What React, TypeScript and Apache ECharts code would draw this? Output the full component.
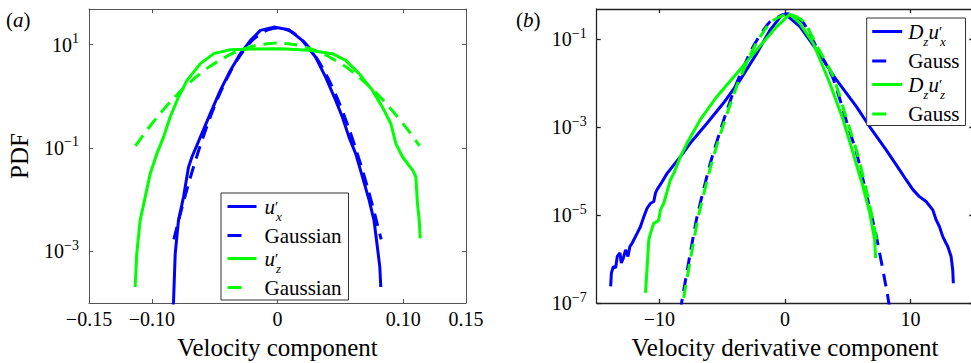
import React, { useEffect, useRef } from 'react';
import * as echarts from 'echarts';

const FONT = 'Liberation Serif';
const BLUE = '#0000ff';
const GREEN = '#00ff00';
const FRAME_A = '#555555';
const FRAME_B = '#222222';

// ---- panel (a): velocity components, points are [velocity, log10(PDF)] ----
const uxCurve: [number, number][] = [
  [-0.0835, -4.2], [-0.0827, -3.95], [-0.0814, -3.05], [-0.0788, -2.4], [-0.0748, -1.95],
  [-0.0708, -1.37], [-0.0681, -1.175], [-0.0614, -0.79], [-0.0535, -0.335], [-0.0455, 0.115],
  [-0.0375, 0.5], [-0.0295, 0.826], [-0.0215, 1.083], [-0.0136, 1.277], [-0.003, 1.34],
  [0.009, 1.29], [0.0197, 1.083], [0.0303, 0.76], [0.0383, 0.373], [0.0463, -0.078],
  [0.0516, -0.4], [0.0569, -0.79], [0.0622, -1.11], [0.0676, -1.56], [0.0729, -2.01],
  [0.0768, -2.4], [0.0795, -2.92], [0.0814, -3.3], [0.0822, -3.69],
];
const uxGauss: [number, number][] = [
  [-0.0825, -2.77], [-0.0775, -2.29], [-0.0725, -1.84], [-0.0675, -1.42], [-0.0625, -1.03],
  [-0.0575, -0.67], [-0.0525, -0.336], [-0.0475, -0.035], [-0.0425, 0.236], [-0.0375, 0.476],
  [-0.0325, 0.687], [-0.0275, 0.867], [-0.0225, 1.018], [-0.0175, 1.138], [-0.0125, 1.228],
  [-0.0075, 1.288], [0, 1.322], [0.0075, 1.288], [0.0125, 1.228], [0.0175, 1.138],
  [0.0225, 1.018], [0.0275, 0.867], [0.0325, 0.687], [0.0375, 0.476], [0.0425, 0.236],
  [0.0475, -0.035], [0.0525, -0.336], [0.0575, -0.67], [0.0625, -1.03], [0.0675, -1.42],
  [0.0725, -1.84], [0.0775, -2.29], [0.0825, -2.77],
];
const uzCurve: [number, number][] = [
  [-0.1133, -3.69], [-0.112, -3.05], [-0.1093, -2.4], [-0.1053, -1.95], [-0.1013, -1.5],
  [-0.096, -1.11], [-0.0907, -0.79], [-0.0854, -0.4], [-0.0788, -0.014], [-0.072, 0.309],
  [-0.0614, 0.632], [-0.0508, 0.826], [-0.0375, 0.903], [-0.0189, 0.915], [0.0024, 0.92],
  [0.025, 0.89], [0.0436, 0.826], [0.0543, 0.696], [0.0649, 0.44], [0.0755, 0.115],
  [0.0835, -0.21], [0.0902, -0.53], [0.0942, -0.916], [0.0995, -1.175], [0.1075, -1.43],
  [0.1101, -1.56], [0.1114, -2.08], [0.1128, -2.4], [0.1136, -2.75],
];
const uzGauss: [number, number][] = [
  [-0.113, -0.96], [-0.105, -0.69], [-0.095, -0.38], [-0.085, -0.1], [-0.075, 0.15],
  [-0.065, 0.37], [-0.055, 0.56], [-0.045, 0.71], [-0.035, 0.84], [-0.025, 0.93],
  [-0.015, 0.995], [0, 1.03], [0.015, 0.995], [0.025, 0.93], [0.035, 0.84], [0.045, 0.71],
  [0.055, 0.56], [0.065, 0.37], [0.075, 0.15], [0.085, -0.1], [0.095, -0.38],
  [0.105, -0.69], [0.113, -0.96],
];

// ---- panel (b): velocity derivative components, [derivative, log10(PDF)] ----
const duxCurve: [number, number][] = [
  [-13.89, -6.62], [-13.83, -6.32], [-13.67, -6.17], [-13.49, -6.2], [-13.36, -5.94],
  [-13.15, -5.86], [-13.04, -6.09], [-12.88, -5.98], [-12.7, -5.79], [-12.51, -5.94],
  [-12.35, -5.71], [-12.17, -5.64], [-12.04, -5.56], [-11.77, -5.41], [-11.51, -5.26],
  [-11.24, -5.03], [-10.98, -4.84], [-10.71, -4.73], [-10.45, -4.69], [-10.32, -4.5],
  [-10.19, -4.42], [-9.79, -4.24], [-9.39, -4.05], [-8.33, -3.67], [-7.54, -3.36],
  [-6.21, -2.91], [-4.9, -2.45], [-3.57, -1.925], [-2.25, -1.32], [-1.19, -0.79],
  [-0.26, -0.45], [0, -0.425], [0.13, -0.45], [1.19, -0.71], [2.52, -1.24], [4.1, -1.925],
  [5.69, -2.53], [6.75, -2.99], [8.07, -3.52], [9.13, -3.97], [9.66, -4.2], [10.19, -4.42],
  [10.71, -4.58], [11.24, -4.69], [11.77, -4.88], [12.04, -5.11], [12.3, -5.26],
  [12.57, -5.49], [12.83, -5.64], [12.96, -5.71], [13.23, -5.94], [13.36, -6.24], [13.41, -6.55],
];
const duxGauss: [number, number][] = [
  [-8.35, -7.2], [-8.2, -6.93], [-7.6, -5.95], [-7.0, -5.03], [-5.95, -3.82], [-4.9, -2.85],
  [-3.83, -1.98], [-2.51, -1.15], [-1.2, -0.6], [0.2, -0.42], [1.4, -0.6], [2.51, -1.18],
  [3.78, -1.85], [4.9, -2.87], [5.74, -3.63], [6.53, -4.58], [7.28, -5.49], [8.12, -6.74],
  [8.3, -7.05],
];
const duzCurve: [number, number][] = [
  [-11.11, -6.77], [-11.03, -6.4], [-10.93, -5.94], [-10.85, -5.56], [-10.71, -5.41],
  [-10.45, -5.18], [-10.19, -5.15], [-10.06, -5.11], [-9.92, -4.88], [-9.66, -4.73],
  [-9.39, -4.46], [-9.13, -4.2], [-8.86, -4.05], [-8.33, -3.67], [-7.8, -3.36], [-6.75, -2.83],
  [-5.42, -2.3], [-3.83, -1.77], [-2.25, -1.24], [-0.66, -0.71], [0.4, -0.425], [1.19, -0.64],
  [2.25, -1.09], [3.57, -2.0], [4.63, -2.83], [5.42, -3.59], [6.21, -4.35], [6.75, -4.95],
  [7.14, -5.56], [7.22, -5.98],
];
const duzGauss: [number, number][] = [
  [-8.35, -7.35], [-8.1, -6.93], [-7.5, -5.95], [-6.9, -5.03], [-5.85, -3.82], [-4.8, -2.85],
  [-3.73, -1.98], [-2.41, -1.15], [-1.1, -0.6], [0.3, -0.42], [1.5, -0.6], [2.6, -1.18],
  [3.85, -1.85], [4.97, -2.87], [5.8, -3.63], [6.6, -4.58], [7.3, -5.56],
];

// axis ranges and tick positions
const velRange = [-0.15, 0.15];
const velLabelTicks = [-0.15, -0.1, 0, 0.1, 0.15];
const velTicks = [-0.1, 0, 0.1];
const derivRange = [-15, 15];
const derivTicks = [-10, 0, 10];
const pdfRangeA = [-4, 1.69];
const pdfExpA = [-3, -1, 1];
const pdfRangeB = [-7, -0.31];
const pdfExpB = [-7, -5, -3, -1];

const minus = (v: number, s: string) => (v < 0 ? '\u2212' + s : s);

const legendLabels: Record<string, string> = {
  ux: '{i0|u}{p|\u2032}{s|x}',
  gx: '{t0|Gaussian}',
  uz: '{i0|u}{p|\u2032}{s|z}',
  gz: '{t0|Gaussian}',
  dux: '{i0|D}{s|z}{i|u}{p|\u2032}{s|x}',
  gdx: '{t0|Gauss}',
  duz: '{i0|D}{s|z}{i|u}{p|\u2032}{s|z}',
  gdz: '{t0|Gauss}',
};

const legendRich = (gap: number) => ({
  i0: { fontFamily: FONT, fontStyle: 'italic', fontSize: 21, lineHeight: 22, padding: [0, 0, 0, gap], color: '#000' },
  i: { fontFamily: FONT, fontStyle: 'italic', fontSize: 21, lineHeight: 22, color: '#000' },
  p: { fontFamily: FONT, fontSize: 15, lineHeight: 22, width: 1, color: '#000' },
  s: { fontFamily: FONT, fontStyle: 'italic', fontSize: 13, height: 2, verticalAlign: 'bottom', color: '#000' },
  t0: { fontFamily: FONT, fontSize: 21, lineHeight: 22, padding: [0, 0, 0, gap], color: '#000' },
});

const expRich = {
  b: { fontFamily: FONT, fontSize: 20, lineHeight: 14, color: '#000' },
  e: { fontFamily: FONT, fontSize: 14, height: 2, verticalAlign: 'top', color: '#000' },
};

function xAxes(grid: number, range: number[], labelTicks: number[], ticks: number[], name: string,
  fmt: (v: number) => string, color: string, width: number) {
  const line = { show: true, onZero: false, lineStyle: { color, width } };
  const tick = { show: true, inside: true, length: 4, customValues: ticks, lineStyle: { color, width } };
  return [
    {
      type: 'value', gridIndex: grid, position: 'bottom', min: range[0], max: range[1],
      axisLine: line, axisTick: tick, splitLine: { show: false },
      axisLabel: { customValues: labelTicks, formatter: fmt, margin: 6, fontFamily: FONT, fontSize: 20, color: '#000' },
      name, nameLocation: 'middle', nameGap: 32,
      nameTextStyle: { fontFamily: FONT, fontSize: 25, color: '#000' },
    },
    {
      type: 'value', gridIndex: grid, position: 'top', min: range[0], max: range[1],
      axisLine: line, axisTick: tick, splitLine: { show: false }, axisLabel: { show: false },
    },
  ];
}

function yAxes(grid: number, range: number[], exps: number[], color: string, width: number, name?: string) {
  const line = { show: true, onZero: false, lineStyle: { color, width } };
  const tick = { show: true, inside: true, length: 4, customValues: exps, lineStyle: { color, width } };
  return [
    {
      type: 'value', gridIndex: grid, position: 'left', min: range[0], max: range[1],
      axisLine: line, axisTick: tick, splitLine: { show: false },
      axisLabel: {
        customValues: exps, margin: 10,
        formatter: (v: number) => `{b|10}{e|${minus(v, String(Math.abs(v)))}}`,
        rich: expRich,
      },
      name: name ?? '', nameLocation: 'middle', nameGap: 57, nameRotate: 90,
      nameTextStyle: { fontFamily: FONT, fontSize: 25, color: '#000' },
    },
    {
      type: 'value', gridIndex: grid, position: 'right', min: range[0], max: range[1],
      axisLine: line, axisTick: tick, splitLine: { show: false }, axisLabel: { show: false },
    },
  ];
}

function curve(name: string, data: [number, number][], axis: number, color: string, dashed: boolean) {
  return {
    name, type: 'line', data, xAxisIndex: axis, yAxisIndex: axis, symbol: 'none',
    smooth: dashed ? 0.2 : false,
    itemStyle: { color },
    lineStyle: { color, width: 3, type: dashed ? [13, 8] : 'solid' },
  };
}

function legendItem(name: string, color: string, dashed: boolean) {
  return {
    name,
    lineStyle: { color, width: 3, type: dashed ? [14, 30] : 'solid' },
    itemStyle: { color, opacity: 0 },
  };
}

const option: any = {
  animation: false,
  grid: [
    { left: 89, right: 505, top: 9, bottom: 60, outerBoundsMode: 'none', containLabel: false },
    { left: 596.7, right: -2.3, top: 9, bottom: 60, outerBoundsMode: 'none', containLabel: false },
  ],
  xAxis: [
    ...xAxes(0, velRange, velLabelTicks, velTicks, 'Velocity component',
      (v) => (v === 0 ? '0' : minus(v, Math.abs(v).toFixed(2))), FRAME_A, 1),
    ...xAxes(1, derivRange, derivTicks, derivTicks, 'Velocity derivative component',
      (v) => minus(v, String(Math.abs(v))), FRAME_B, 1.3),
  ],
  yAxis: [
    ...yAxes(0, pdfRangeA, pdfExpA, FRAME_A, 1, 'PDF'),
    ...yAxes(1, pdfRangeB, pdfExpB, FRAME_B, 1.3),
  ],
  legend: [
    {
      orient: 'vertical', left: 221, top: 193, padding: [3, 7, 2, 5], itemWidth: 29, itemHeight: 14,
      itemGap: 2, borderColor: '#333', borderWidth: 1, backgroundColor: '#fff', selectedMode: false,
      data: [legendItem('ux', BLUE, false), legendItem('gx', BLUE, true), legendItem('uz', GREEN, false), legendItem('gz', GREEN, true)],
      formatter: (n: string) => legendLabels[n],
      textStyle: { fontFamily: FONT, fontSize: 21, color: '#000', rich: legendRich(3) },
    },
    {
      orient: 'vertical', left: 866.7, top: 18, padding: [3, 6, 1, 4], itemWidth: 30, itemHeight: 14,
      itemGap: 2.5, borderColor: '#333', borderWidth: 1, backgroundColor: '#fff', selectedMode: false,
      data: [legendItem('dux', BLUE, false), legendItem('gdx', BLUE, true), legendItem('duz', GREEN, false), legendItem('gdz', GREEN, true)],
      formatter: (n: string) => legendLabels[n],
      textStyle: { fontFamily: FONT, fontSize: 21, color: '#000', rich: legendRich(1) },
    },
  ],
  series: [
    curve('ux', uxCurve, 0, BLUE, false),
    curve('gx', uxGauss, 0, BLUE, true),
    curve('uz', uzCurve, 0, GREEN, false),
    curve('gz', uzGauss, 0, GREEN, true),
    curve('dux', duxCurve, 2, BLUE, false),
    curve('gdx', duxGauss, 2, BLUE, true),
    curve('duz', duzCurve, 2, GREEN, false),
    curve('gdz', duzGauss, 2, GREEN, true),
  ],
  graphic: [
    {
      type: 'text', x: 6, y: 20,
      style: { text: '({i|a})', fontFamily: FONT, fontSize: 21, fill: '#000', verticalAlign: 'middle',
        rich: { i: { fontFamily: FONT, fontSize: 21, fontStyle: 'italic' } } },
    },
    {
      type: 'text', x: 516, y: 20,
      style: { text: '({i|b})', fontFamily: FONT, fontSize: 21, fill: '#000', verticalAlign: 'middle',
        rich: { i: { fontFamily: FONT, fontSize: 21, fontStyle: 'italic' } } },
    },
  ],
};

export default function App() {
  const ref = useRef<HTMLDivElement>(null);
  useEffect(() => {
    if (!ref.current) return;
    const chart = echarts.init(ref.current, null, { renderer: 'svg' });
    chart.setOption(option);
    return () => chart.dispose();
  }, []);
  return <div ref={ref} style={{ position: 'absolute', left: 0, top: 0, width: 971, height: 363 }} />;
}
